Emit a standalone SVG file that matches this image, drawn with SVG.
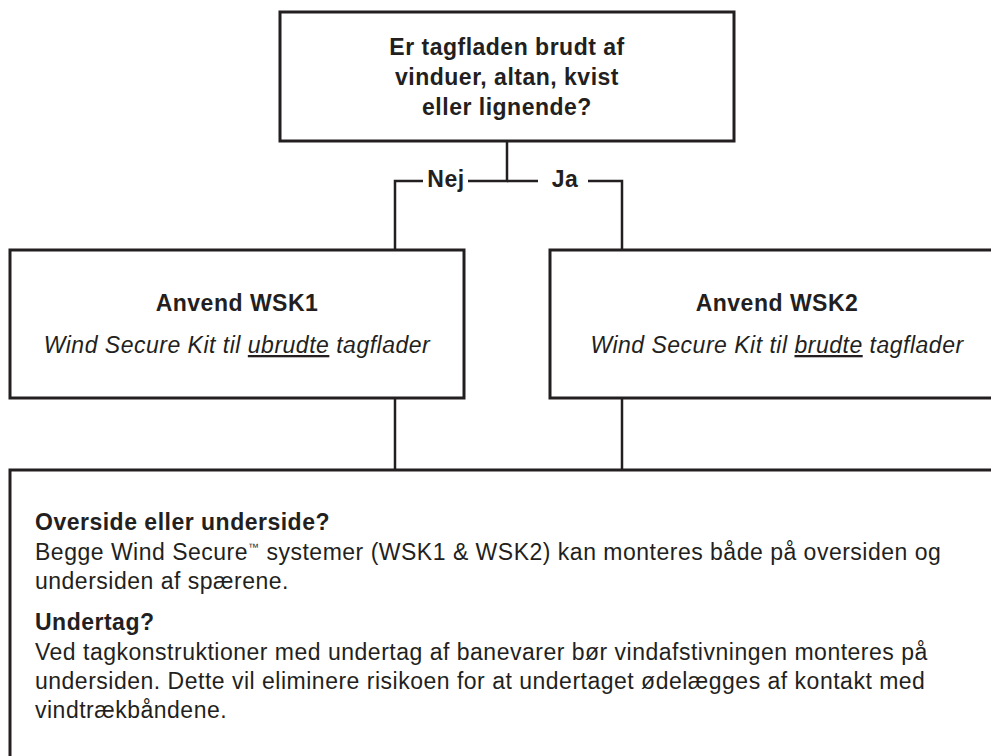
<svg xmlns="http://www.w3.org/2000/svg" width="991" height="756" viewBox="0 0 991 756">
<style>
.box{fill:#fff;stroke:#231f20;stroke-width:3}
.con{fill:none;stroke:#231f20;stroke-width:2.5}
text{font-family:"Liberation Sans",Arial,sans-serif;font-size:23px;letter-spacing:0.5px;fill:#231f20}
.b{font-weight:bold}
.c{text-anchor:middle}
.i{font-style:italic}
</style>
<rect width="991" height="756" fill="#fff"/>
<g id="connectors">
<path class="con" d="M507 141V181H468M423 181H395V250"/>
<path class="con" d="M507 181H538M588 181H622V250"/>
<path class="con" d="M395 398V470"/>
<path class="con" d="M622 398V470"/>
<text class="b c" x="446" y="187">Nej</text>
<text class="b c" x="565" y="187">Ja</text>
</g>
<g id="question">
<rect class="box" x="280" y="12" width="454" height="129"/>
<text class="b c" x="507" y="55">Er tagfladen brudt af</text>
<text class="b c" x="507" y="85">vinduer, altan, kvist</text>
<text class="b c" x="507" y="115">eller lignende?</text>
</g>
<g id="wsk1">
<rect class="box" x="10" y="250" width="454" height="148"/>
<text class="b c" x="237" y="311">Anvend WSK1</text>
<text class="i c" x="237" y="353">Wind Secure Kit til <tspan text-decoration="underline">ubrudte</tspan> tagflader</text>
</g>
<g id="wsk2">
<rect class="box" x="550" y="250" width="454" height="148"/>
<text class="b c" x="777" y="311">Anvend WSK2</text>
<text class="i c" x="777" y="353">Wind Secure Kit til <tspan text-decoration="underline">brudte</tspan> tagflader</text>
</g>
<g id="info">
<rect class="box" x="10" y="470" width="1000" height="320"/>
<text class="b" x="35" y="530">Overside eller underside?</text>
<text x="35" y="560">Begge Wind Secure<tspan font-size="11" dy="-9">™</tspan><tspan dy="9"> systemer (WSK1 &amp; WSK2) kan monteres både på oversiden og</tspan></text>
<text x="35" y="589">undersiden af spærene.</text>
<text class="b" x="35" y="630">Undertag?</text>
<text x="35" y="660">Ved tagkonstruktioner med undertag af banevarer bør vindafstivningen monteres på</text>
<text x="35" y="689">undersiden. Dette vil eliminere risikoen for at undertaget ødelægges af kontakt med</text>
<text x="35" y="718">vindtrækbåndene.</text>
</g>
</svg>
